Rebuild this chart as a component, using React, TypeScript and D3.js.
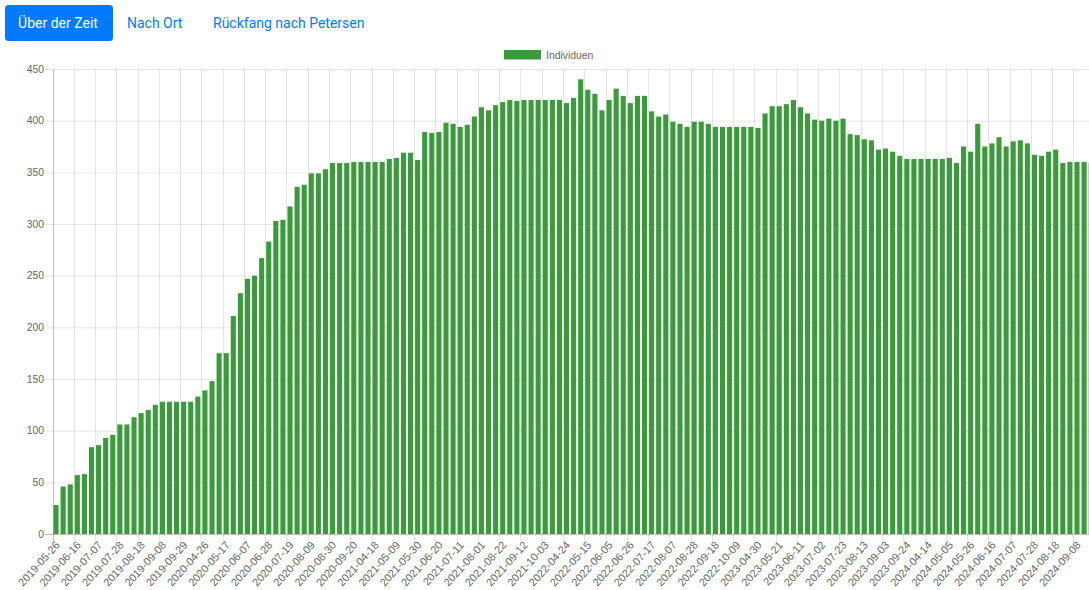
import React, { useEffect, useRef } from "react";
import * as d3 from "d3";

// weekly counts of individuals, one bar per recorded week
const individuen: number[] = [
  28, 46, 48, 57, 58, 84, 86, 93, 96, 106, 106, 113, 117, 120, 125, 128, 128, 128, 128, 128,
  133, 139, 148, 175, 175, 211, 233, 247, 250, 267, 283, 303, 304, 317, 336, 338, 349, 349, 353, 359,
  359, 359, 360, 360, 360, 360, 360, 363, 364, 369, 369, 362, 389, 388, 389, 398, 397, 394, 396, 404,
  413, 410, 415, 418, 420, 419, 420, 420, 420, 420, 420, 420, 417, 422, 440, 430, 426, 410, 420, 431,
  424, 417, 424, 424, 409, 404, 406, 399, 397, 394, 399, 399, 397, 394, 394, 394, 394, 394, 394, 393,
  407, 414, 414, 416, 420, 413, 407, 401, 400, 402, 400, 402, 387, 386, 382, 381, 372, 373, 370, 366,
  363, 363, 363, 363, 363, 363, 364, 359, 375, 370, 397, 375, 378, 384, 375, 380, 381, 378, 367, 366,
  370, 372, 359, 360, 360, 360, 359,
];

// the labels the axis shows (every third week)
const tickLabels: string[] = [
  "2019-05-26", "2019-06-16", "2019-07-07", "2019-07-28", "2019-08-18", "2019-09-08", "2019-09-29",
  "2020-04-26", "2020-05-17", "2020-06-07", "2020-06-28", "2020-07-19", "2020-08-09", "2020-08-30",
  "2020-09-20", "2021-04-18", "2021-05-09", "2021-05-30", "2021-06-20", "2021-07-11", "2021-08-01",
  "2021-08-22", "2021-09-12", "2021-10-03", "2022-04-24", "2022-05-15", "2022-06-05", "2022-06-26",
  "2022-07-17", "2022-08-07", "2022-08-28", "2022-09-18", "2022-10-09", "2023-04-30", "2023-05-21",
  "2023-06-11", "2023-07-02", "2023-07-23", "2023-08-13", "2023-09-03", "2023-09-24", "2024-04-14",
  "2024-05-05", "2024-05-26", "2024-06-16", "2024-07-07", "2024-07-28", "2024-08-18", "2024-09-08",
];
const labelEvery = 3;

const yTicks = [0, 50, 100, 150, 200, 250, 300, 350, 400, 450];
const tabs = ["Über der Zeit", "Nach Ort", "Rückfang nach Petersen"];

const W = 1089;
const H = 590;
const chartFont = "'Liberation Sans', Arial, Helvetica, sans-serif";

const App = () => {
  const ref = useRef<SVGSVGElement>(null);

  useEffect(() => {
    if (!ref.current) return;
    const svg = d3.select(ref.current);
    svg.selectAll("*").remove();

    // tabs
    const nav = svg.append("g").attr("font-family", "'Segoe UI', Roboto, sans-serif").attr("font-size", 14);
    nav.append("rect").attr("x", 5).attr("y", 5).attr("width", 108).attr("height", 36).attr("rx", 3.5).attr("fill", "#007bff");
    nav.append("text").attr("x", 58).attr("y", 28).attr("text-anchor", "middle").attr("fill", "#fff").text(tabs[0]);
    nav.append("text").attr("x", 127).attr("y", 28).attr("fill", "#007bff").text(tabs[1]);
    nav.append("text").attr("x", 213).attr("y", 28).attr("fill", "#007bff").text(tabs[2]);

    // plot area runs past the window on the right, like the original canvas
    const left = 52.5;
    const top = 69;
    const bottom = 534;
    const step = 7.09;
    const right = left + individuen.length * step;

    const x = d3
      .scaleBand<number>()
      .domain(d3.range(individuen.length))
      .range([left, right])
      .paddingInner(0.28)
      .paddingOuter(0.14);
    const y = d3.scaleLinear().domain([0, 450]).range([bottom, top]);

    const g = svg.append("g").attr("font-family", chartFont).attr("font-size", 10.4).attr("fill", "#666");

    // horizontal grid
    g.selectAll("line.hgrid")
      .data(yTicks)
      .join("line")
      .attr("class", "hgrid")
      .attr("x1", left - 8)
      .attr("x2", right)
      .attr("y1", (d) => y(d) + 0.5)
      .attr("y2", (d) => y(d) + 0.5)
      .attr("stroke", (d) => (d === 0 ? "rgba(0,0,0,0.25)" : "rgba(0,0,0,0.1)"));

    // vertical grid at every shown label (category boundaries)
    const shown = d3.range(0, individuen.length, labelEvery).filter((i) => i / labelEvery < tickLabels.length);
    const boundary = (i: number) => left + i * step;
    g.selectAll("line.vgrid")
      .data(shown)
      .join("line")
      .attr("class", "vgrid")
      .attr("x1", (d) => Math.round(boundary(d)) + 0.5)
      .attr("x2", (d) => Math.round(boundary(d)) + 0.5)
      .attr("y1", top)
      .attr("y2", bottom + 8)
      .attr("stroke", (d) => (d === 0 ? "rgba(0,0,0,0.25)" : "rgba(0,0,0,0.1)"));

    // bars
    g.append("g")
      .selectAll("rect")
      .data(individuen)
      .join("rect")
      .attr("x", (_, i) => x(i)!)
      .attr("width", x.bandwidth())
      .attr("y", (d) => y(d))
      .attr("height", (d) => bottom - y(d))
      .attr("fill", "#3b9a3b");

    // y labels
    g.selectAll("text.ylab")
      .data(yTicks)
      .join("text")
      .attr("class", "ylab")
      .attr("x", 44)
      .attr("y", (d) => y(d))
      .attr("dy", "0.35em")
      .attr("text-anchor", "end")
      .text((d) => d);

    // x labels, rotated
    g.selectAll("text.xlab")
      .data(shown)
      .join("text")
      .attr("class", "xlab")
      .attr("font-size", 10.9)
      .attr("text-anchor", "end")
      .attr("dy", "0.35em")
      .attr("transform", (d) => `translate(${x(d)! + x.bandwidth() / 2 + 1.5},${bottom + 9}) rotate(-48)`)
      .text((d) => tickLabels[d / labelEvery]);

    // legend
    const lg = g.append("g");
    lg.append("rect").attr("x", 504).attr("y", 50).attr("width", 37).attr("height", 9.5).attr("fill", "#3b9a3b");
    lg.append("text").attr("x", 546).attr("y", 58.5).text("Individuen");
  }, []);

  return (
    <div style={{ position: "absolute", left: 0, top: 0, width: W, height: H, overflow: "hidden", background: "#fff" }}>
      <svg ref={ref} width={W} height={H} style={{ display: "block" }} />
    </div>
  );
};

export default App;
